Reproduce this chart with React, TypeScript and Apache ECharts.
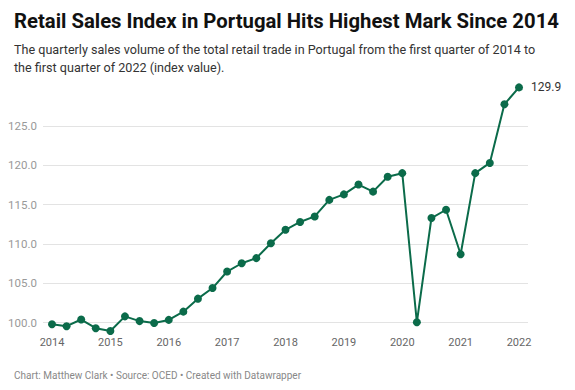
import React, { useEffect, useRef } from "react";
import * as echarts from "echarts";

const quarters: number[] = [];
for (let y = 2014; y <= 2022; y++) {
  for (let q = 0; q < 4; q++) {
    if (y === 2022 && q > 0) break;
    quarters.push(y + q * 0.25);
  }
}

const salesIndex = [
  99.8, 99.55, 100.4, 99.3,
  98.95, 100.8, 100.2, 99.95,
  100.35, 101.4, 103.05, 104.4,
  106.5, 107.55, 108.2, 110.1,
  111.8, 112.8, 113.5, 115.6,
  116.3, 117.55, 116.65, 118.55,
  119.0, 100.05, 113.3, 114.35,
  108.7, 119.0, 120.3, 127.75,
  129.9,
];

const yearTicks = [2014, 2015, 2016, 2017, 2018, 2019, 2020, 2021, 2022];
const yTicks = [100, 105, 110, 115, 120, 125];

const GREEN = "#0b6b4a";
const FONT = "Roboto";

export default function App() {
  const ref = useRef<HTMLDivElement>(null);
  useEffect(() => {
    if (!ref.current) return;
    const chart = echarts.init(ref.current, undefined, { renderer: "svg" });
    const data = quarters.map((x, i) => {
      const item: any = { value: [x, salesIndex[i]] };
      if (i === quarters.length - 1) {
        item.label = {
          show: true,
          position: "right",
          distance: 8,
          formatter: (p: any) => p.value[1].toFixed(1),
          color: "#333",
          fontSize: 12,
          fontFamily: FONT,
        };
      }
      return item;
    });
    chart.setOption({
      animation: false,
      textStyle: { fontFamily: FONT },
      title: [
        {
          text: "Retail Sales Index in Portugal Hits Highest Mark Since 2014",
          left: 9,
          top: 6,
          textStyle: { fontFamily: FONT, fontSize: 20.3, fontWeight: "bold", color: "#111" },
        },
        {
          text:
            "The quarterly sales volume of the total retail trade in Portugal from the first quarter of 2014 to\nthe first quarter of 2022 (index value).",
          left: 9,
          top: 35,
          textStyle: { fontFamily: FONT, fontSize: 12.6, fontWeight: "normal", color: "#333", lineHeight: 18 },
        },
        {
          text: "Chart: Matthew Clark • Source: OCED • Created with Datawrapper",
          left: 9,
          top: 365,
          textStyle: { fontFamily: FONT, fontSize: 10, fontWeight: "normal", color: "#888" },
        },
      ],
      grid: { left: 43, right: 47, top: 86.6, bottom: 51.6, containLabel: false },
      xAxis: {
        type: "value",
        min: 2014 - 9 / 58.4,
        max: 2022 + 9 / 58.4,
        axisLine: { show: false },
        axisTick: { show: false, customValues: yearTicks },
        splitLine: { show: false },
        axisLabel: {
          customValues: yearTicks,
          formatter: (v: number) => String(Math.round(v)),
          color: "#666",
          fontSize: 11,
          fontFamily: FONT,
          margin: -1,
        },
      },
      yAxis: {
        type: "value",
        min: 98,
        max: 130,
        axisLine: { show: false },
        axisTick: { show: false, customValues: yTicks },
        splitLine: { show: true, lineStyle: { color: "#e3e3e3", width: 1 } },
        axisLabel: {
          customValues: yTicks,
          formatter: (v: number) => v.toFixed(1),
          color: "#999",
          fontSize: 11.5,
          fontFamily: FONT,
          margin: 6,
        },
      },
      series: [
        {
          type: "line",
          data,
          symbol: "circle",
          symbolSize: 8,
          lineStyle: { color: GREEN, width: 2 },
          itemStyle: { color: GREEN },
          z: 3,
        },
      ],
    });
    return () => chart.dispose();
  }, []);
  return <div ref={ref} style={{ width: 575, height: 390, position: "absolute", left: 0, top: 0 }} />;
}
